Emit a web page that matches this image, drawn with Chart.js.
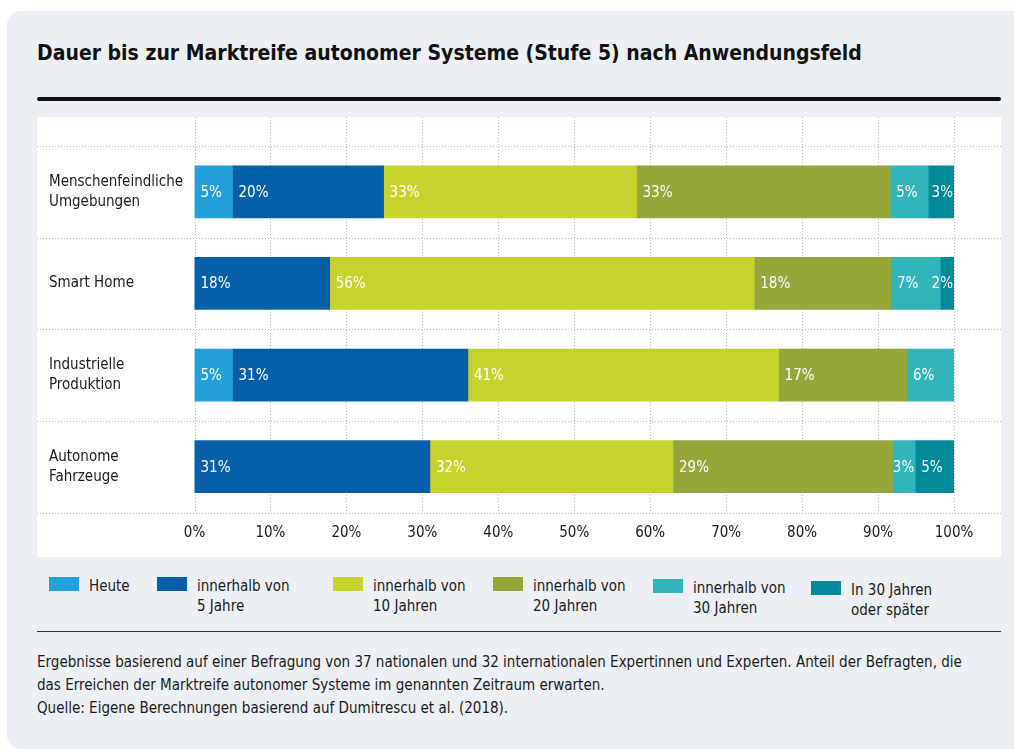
<!DOCTYPE html>
<html lang="de">
<head>
<meta charset="utf-8">
<title>Dauer bis zur Marktreife autonomer Systeme</title>
<script src="https://cdn.jsdelivr.net/npm/chart.js@4.4.1/dist/chart.umd.min.js"></script>
<style>
  html, body { margin: 0; padding: 0; background: #fff; }
  body {
    width: 1014px; height: 751px; overflow: hidden; position: relative;
    font-family: "DejaVu Sans Condensed", "DejaVu Sans", sans-serif;
    color: #1b1b1b;
  }
  .card { position: absolute; left: 7px; top: 11px; width: 1030px; height: 738px; background: #ecf0f4; border-radius: 14px; }
  h1 { position: absolute; left: 37px; top: 39px; margin: 0; font-size: 21px; font-weight: bold; line-height: 28px; white-space: nowrap; color: #111; }
  .rule-top { position: absolute; left: 37px; top: 97px; width: 964px; height: 4px; background: #111; border-radius: 2px; }
  .plot { position: absolute; left: 37px; top: 117px; width: 964px; height: 440px; background: #fff; }
  .legend { position: absolute; left: 0; top: 576px; }
  .legend .item { position: absolute; top: 0; white-space: nowrap; font-size: 15px; line-height: 20px; }
  .legend .swatch { position: absolute; left: 0; top: 1px; width: 30px; height: 14px; }
  .legend .text { position: absolute; left: 40px; top: 0; }
  .legend .item:nth-child(1) { left: 49px; }
  .legend .item:nth-child(2) { left: 157px; }
  .legend .item:nth-child(3) { left: 333px; }
  .legend .item:nth-child(4) { left: 493px; }
  .legend .item:nth-child(5) { left: 653px; top: 2px; }
  .legend .item:nth-child(6) { left: 811px; top: 4px; }
  .rule-bottom { position: absolute; left: 37px; top: 631px; width: 964px; height: 1px; background: #333; }
  .note { position: absolute; left: 37px; top: 651px; font-size: 15px; line-height: 23px; white-space: nowrap; }
</style>
</head>
<body>
<div class="card"></div>
<h1>Dauer bis zur Marktreife autonomer Systeme (Stufe 5) nach Anwendungsfeld</h1>
<div class="rule-top"></div>
<div class="plot"><canvas id="chart" width="964" height="440"></canvas></div>
<div class="legend" id="legend"></div>
<div class="rule-bottom"></div>
<div class="note">
  Ergebnisse basierend auf einer Befragung von 37 nationalen und 32 internationalen Expertinnen und Experten. Anteil der Befragten, die<br>
  das Erreichen der Marktreife autonomer Systeme im genannten Zeitraum erwarten.<br>
  Quelle: Eigene Berechnungen basierend auf Dumitrescu et al. (2018).
</div>
<script>
// Anwendungsfelder (top to bottom)
const categories = [
  ['Menschenfeindliche', 'Umgebungen'],
  'Smart Home',
  ['Industrielle', 'Produktion'],
  ['Autonome', 'Fahrzeuge']
];

// Zeiträume
const seriesLabels = [
  ['Heute'],
  ['innerhalb von', '5 Jahre'],
  ['innerhalb von', '10 Jahren'],
  ['innerhalb von', '20 Jahren'],
  ['innerhalb von', '30 Jahren'],
  ['In 30 Jahren', 'oder später']
];
const seriesColors = ['#239fd9', '#0560a9', '#c6d32c', '#96a63b', '#31b5ba', '#028a9a'];

// share of respondents in % (bar widths, labels rounded)
const heute    = [5.0, 0, 5.0, 0];
const within5  = [19.9, 17.8, 31.0, 31.0];
const within10 = [33.3, 55.9, 40.9, 32.0];
const within20 = [33.4, 18.0, 16.9, 28.9];
const within30 = [5.0, 6.5, 6.2, 3.0];
const later    = [3.4, 1.8, 0, 5.1];
const seriesValues = [heute, within5, within10, within20, within30, later];

const xTickStep = 10;
const FONT = '"DejaVu Sans Condensed", "DejaVu Sans", sans-serif';

// legend in html (two-line labels)
const legendEl = document.getElementById('legend');
seriesLabels.forEach((lines, i) => {
  const item = document.createElement('div');
  item.className = 'item';
  item.innerHTML = '<span class="swatch" style="background:' + seriesColors[i] + '"></span>' +
    '<span class="text">' + lines.join('<br>') + '</span>';
  legendEl.appendChild(item);
});

// dotted grid: vertical lines at x ticks, horizontal lines between categories
const dottedGrid = {
  id: 'dottedGrid',
  beforeDatasetsDraw(chart) {
    const { ctx } = chart;
    const x = chart.scales.x, y = chart.scales.y;
    const n = chart.data.labels.length;
    const top = y.getPixelForValue(-0.5);
    const bottom = y.getPixelForValue(n - 0.5);
    ctx.save();
    ctx.strokeStyle = '#b3b3b3';
    ctx.lineWidth = 1;
    ctx.setLineDash([1, 2]);
    x.ticks.forEach(t => {
      const px = Math.round(x.getPixelForValue(t.value)) + 0.5;
      ctx.beginPath();
      ctx.moveTo(px, 0);
      ctx.lineTo(px, Math.max(top, bottom));
      ctx.stroke();
    });
    for (let i = 0; i <= n; i++) {
      const py = Math.round(y.getPixelForValue(i - 0.5)) + 0.5;
      ctx.beginPath();
      ctx.moveTo(0, py);
      ctx.lineTo(chart.width, py);
      ctx.stroke();
    }
    ctx.restore();
  }
};

// white percentage labels inside the segments
const barLabels = {
  id: 'barLabels',
  afterDatasetsDraw(chart) {
    const ctx = chart.ctx;
    ctx.save();
    ctx.font = '15px ' + FONT;
    ctx.fillStyle = '#fff';
    ctx.textBaseline = 'middle';
    ctx.textAlign = 'left';
    chart.data.datasets.forEach((ds, i) => {
      chart.getDatasetMeta(i).data.forEach((bar, j) => {
        const v = ds.data[j];
        if (v < 0.5) return;
        const txt = Math.round(v) + '%';
        const w = ctx.measureText(txt).width;
        const start = Math.min(bar.base, bar.x);
        const end = Math.max(bar.base, bar.x);
        let tx = start + 6;
        if (tx + w > end - 1) tx = end - w - 1;
        ctx.fillText(txt, tx, bar.y + 1);
      });
    });
    ctx.restore();
  }
};

new Chart(document.getElementById('chart').getContext('2d'), {
  type: 'bar',
  data: {
    labels: categories,
    datasets: seriesValues.map((vals, i) => ({
      label: seriesLabels[i].join(' '),
      data: vals,
      backgroundColor: seriesColors[i],
      borderWidth: 0,
      barThickness: 52
    }))
  },
  options: {
    indexAxis: 'y',
    responsive: false,
    animation: false,
    layout: { padding: { left: 12, right: 47, top: 29, bottom: 0 } },
    scales: {
      x: {
        stacked: true,
        min: 0,
        max: 100,
        grid: { display: false, drawTicks: false },
        border: { display: false },
        ticks: {
          stepSize: xTickStep,
          padding: 12,
          color: '#1b1b1b',
          font: { family: FONT, size: 15 },
          callback: v => v + '%'
        },
        afterFit(scale) { scale.height = 44.5; }
      },
      y: {
        stacked: true,
        grid: { display: false, drawTicks: false },
        border: { display: false },
        ticks: {
          crossAlign: 'far',
          padding: 0,
          color: '#1b1b1b',
          font: { family: FONT, size: 15, lineHeight: 1.33 }
        },
        afterFit(scale) { scale.width = 145.5; }
      }
    },
    plugins: {
      legend: { display: false },
      tooltip: { enabled: false }
    }
  },
  plugins: [dottedGrid, barLabels]
});
</script>
</body>
</html>
